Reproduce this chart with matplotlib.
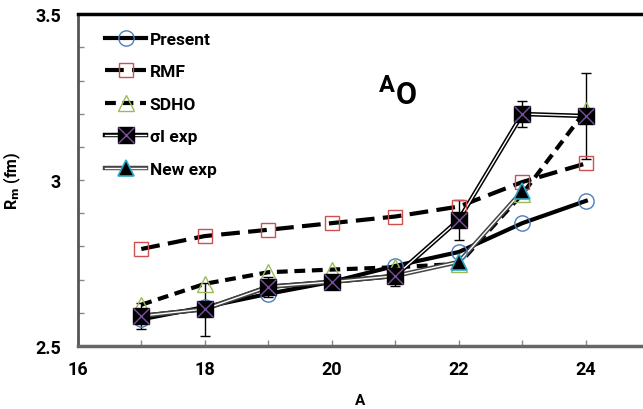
import matplotlib
matplotlib.use('Agg')
from matplotlib import pyplot as plt
from matplotlib.legend_handler import HandlerTuple
from matplotlib.ticker import MultipleLocator

plt.rcParams['font.family'] = ['Roboto', 'DejaVu Sans']
plt.rcParams['font.weight'] = 'bold'
plt.rcParams['mathtext.default'] = 'bf'

A = [17, 18, 19, 20, 21, 22, 23, 24]
present = [2.58, 2.617, 2.657, 2.693, 2.741, 2.783, 2.87, 2.937]
rmf = [2.792, 2.831, 2.85, 2.87, 2.89, 2.92, 2.994, 3.05]
sdho = [2.624, 2.687, 2.722, 2.73, 2.737, 2.747, 2.958, 3.21]
sig_exp = [2.59, 2.611, 2.678, 2.693, 2.711, 2.88, 3.199, 3.193]
sig_err = [0.04, 0.08, 0.03, 0.02, 0.03, 0.06, 0.04, 0.13]
A_new = [17, 18, 19, 20, 21, 22, 23]
new_exp = [2.59, 2.611, 2.678, 2.693, 2.711, 2.753, 2.967]

fig = plt.figure(figsize=(6.43, 4.10), dpi=100)
ax = fig.add_axes([0.121, 0.154, 0.879, 0.809])

# Present
l1, = ax.plot(A, present, color='black', lw=3, zorder=2)
m1, = ax.plot(A, present, ls='none', marker='o', ms=11, mfc='none',
              mec='#4a7ebb', mew=1, zorder=6)

# RMF
l2, = ax.plot(A, rmf, color='black', lw=3, dashes=(4.5, 2), zorder=2)
m2, = ax.plot(A, rmf, ls='none', marker='s', ms=10.5, mfc='none',
              mec='#d05050', mew=1, zorder=6)

# SDHO
l3, = ax.plot(A, sdho, color='black', lw=3, dashes=(2.6, 1.6), zorder=2)
m3, = ax.plot(A, sdho, ls='none', marker='^', ms=12, mfc='none',
              mec='#9bbb59', mew=1, zorder=6)

# sigma_I exp, double line
ax.errorbar(A, sig_exp, yerr=sig_err, fmt='none', ecolor='black',
            elinewidth=1, capsize=3.5, capthick=1, zorder=3)
l4a, = ax.plot(A, sig_exp, color='black', lw=3.2, zorder=3)
l4b, = ax.plot(A, sig_exp, color='white', lw=1, zorder=3)
m4a, = ax.plot(A, sig_exp, ls='none', marker='s', ms=11, mfc='black',
               mec='black', zorder=7)
m4b, = ax.plot(A, sig_exp, ls='none', marker='x', ms=11, mec='#7b4fa0',
               mew=1, zorder=8)

# New exp, double line
l5a, = ax.plot(A_new, new_exp, color='#444444', lw=3.2, zorder=3)
l5b, = ax.plot(A_new, new_exp, color='white', lw=1, zorder=3)
m5, = ax.plot(A_new[5:], new_exp[5:], ls='none', marker='^', ms=12,
              mfc='black', mec='#2aa8c8', mew=1.2, zorder=9)

ax.legend([(l1, m1), (l2, m2), (l3, m3), (l4a, l4b, m4a, m4b), (l5a, l5b, m5)],
          ['Present', 'RMF', 'SDHO', 'σI exp', 'New exp'],
          handler_map={tuple: HandlerTuple(ndivide=1)},
          loc='upper left', bbox_to_anchor=(0.02, 0.995), frameon=False,
          handlelength=2.4, handletextpad=0.2, labelspacing=1.0,
          prop={'weight': 'bold', 'size': 12.5})

ax.text(21.0, 3.232, 'O', fontsize=22, fontweight='bold', va='baseline')
ax.text(20.74, 3.268, 'A', fontsize=17, fontweight='bold', va='baseline')

ax.set_xlim(16, 24.9)
ax.set_ylim(2.5, 3.5)
ax.xaxis.set_major_locator(MultipleLocator(2))
ax.xaxis.set_minor_locator(MultipleLocator(1))
ax.yaxis.set_major_locator(MultipleLocator(0.5))
ax.yaxis.set_minor_locator(MultipleLocator(0.1))
ax.yaxis.set_major_formatter(plt.FuncFormatter(lambda v, p: '%g' % v))

ax.tick_params(which='both', direction='in', color='#888888', width=1, length=4)
ax.tick_params(axis='x', which='major', labelsize=13, pad=10)
ax.tick_params(axis='y', which='major', labelsize=13, pad=12)

ax.spines['right'].set_visible(False)
ax.spines['top'].set_color('black')
ax.spines['top'].set_linewidth(2.5)
ax.spines['left'].set_color('#555555')
ax.spines['left'].set_linewidth(2)
ax.spines['bottom'].set_color('#666666')
ax.spines['bottom'].set_linewidth(2.5)

ax.set_xlabel('A', fontsize=11, fontweight='bold', labelpad=11)
ax.set_ylabel('R$_\\mathbf{m}$ (fm)', fontsize=11.5, fontweight='bold', labelpad=9)

fig.savefig('out.png', dpi=100)
